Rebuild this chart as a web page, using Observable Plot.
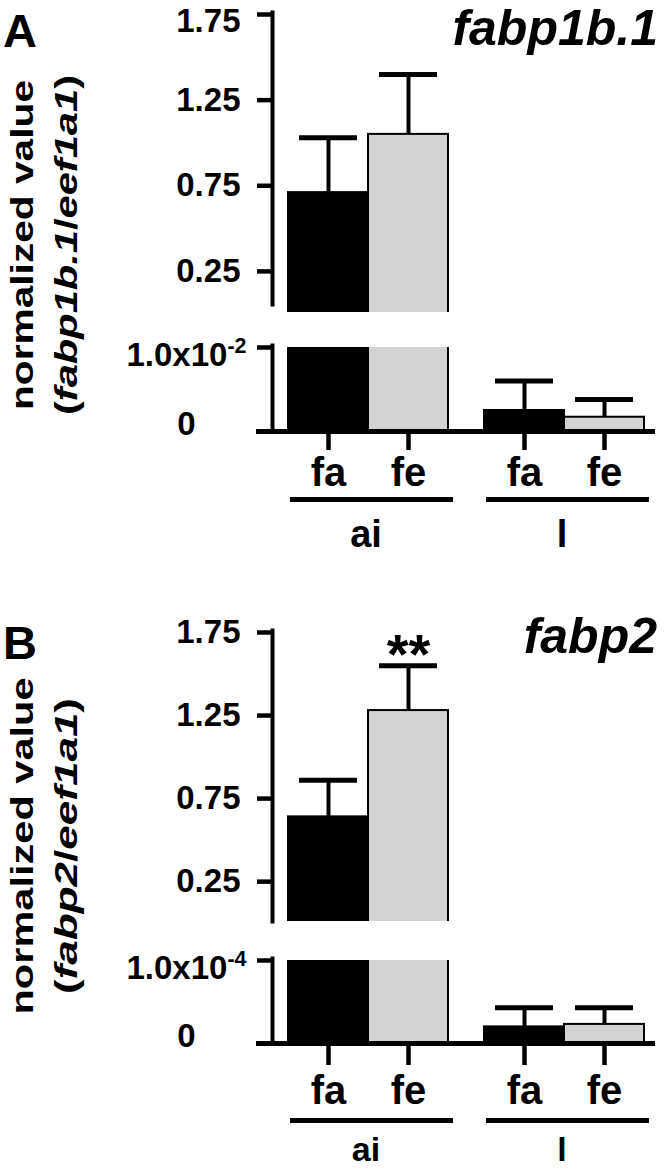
<!DOCTYPE html>
<html>
<head>
<meta charset="utf-8">
<script src="https://cdn.jsdelivr.net/npm/d3@7"></script>
<script src="https://cdn.jsdelivr.net/npm/@observablehq/plot@0.6"></script>
<style>
html, body { margin: 0; padding: 0; background: #fff; }
#root { position: relative; width: 664px; height: 1170px; overflow: hidden; background: #fff; }
#root > svg { position: absolute; left: 0; }
</style>
</head>
<body>
<div id="root"></div>
<script>
// ---------- data ----------
const groups = ["ai", "ai", "l", "l"];
const conditions = ["fa", "fe", "fa", "fe"];
const groupDomain = ["ai", "l"];
const conditionDomain = ["fa", "fe"];

// Panel A: fabp1b.1 / eef1a1
const fabp1b1Mean = [0.71, 1.05, 0.0025, 0.0017];
const fabp1b1Err  = [0.32, 0.35, 0.0035, 0.0021];
const fabp1b1Note = ["", "", "", ""];
// Panel B: fabp2 / eef1a1
const fabp2Mean = [0.64, 1.28, 0.000020, 0.000023];
const fabp2Err  = [0.22, 0.27, 0.000023, 0.000020];
const fabp2Note = ["", "**", "", ""];

const upperTicks = [0.25, 0.75, 1.25, 1.75];
const fabp1b1LowerTicks = [0, 0.01];
const fabp1b1LowerLabels = ["0", "1.0x10^-2"];
const fabp2LowerTicks = [0, 0.0001];
const fabp2LowerLabels = ["0", "1.0x10^-4"];

// ---------- helpers ----------
const FONT = '"Liberation Sans", Arial, Helvetica, sans-serif';
const NS = "http://www.w3.org/2000/svg";
const root = document.getElementById("root");

function rowsOf(means, errs, notes) {
  return means.map((m, i) => ({group: groups[i], condition: conditions[i], mean: m, err: errs[i], note: notes[i]}));
}

function segment(rows, cfg) {
  const lower = cfg.kind === "lower";
  // a broken-axis segment only shows bars that reach into it
  const shown = rows.filter(d => d.mean > cfg.domain[0]);
  const marks = [
    Plot.barY(shown, {fx: "group", x: "condition", y: "mean", fill: "condition", stroke: "black", strokeWidth: 2, clip: true}),
    Plot.ruleX(shown, {fx: "group", x: "condition", y1: "mean", y2: d => d.mean + d.err, strokeWidth: 4, clip: true}),
    Plot.tickY(shown, {fx: "group", x: "condition", y: d => d.mean + d.err, strokeWidth: 5, insetLeft: 11, insetRight: 11, clip: true}),
    Plot.frame({anchor: "left", fx: "ai", strokeWidth: 4, insetTop: -2, insetBottom: cfg.axisInsetBottom}),
    Plot.axisY(cfg.ticks, {tickSize: 15, strokeWidth: 4.5, tickFormat: () => "", label: null})
  ];
  if (!lower) {
    const top = cfg.ticks[cfg.ticks.length - 1];
    marks.push(Plot.axisY(cfg.ticks.filter(t => t !== top), {tickSize: 0, tickPadding: 32, fontSize: 33, tickFormat: d => d.toFixed(2), label: null, ariaLabel: "upper-label"}));
    marks.push(Plot.axisY([top], {tickSize: 0, tickPadding: 32, fontSize: 33, dy: cfg.topLabelDy, tickFormat: d => d.toFixed(2), label: null, ariaLabel: "upper-label"}));
    marks.push(Plot.text(shown.filter(d => d.note), {fx: "group", x: "condition", y: d => d.mean + d.err, text: "note", fontSize: 56, lineAnchor: "top", dy: -32}));
  } else {
    const fmt = d => cfg.labels[cfg.ticks.indexOf(d)];
    marks.push(Plot.axisY([cfg.ticks[1]], {tickSize: 0, tickPadding: 86, textAnchor: "middle", fontSize: 33, dy: 8, tickFormat: fmt, label: null}));
    marks.push(Plot.axisY([cfg.ticks[0]], {tickSize: 0, tickPadding: 86, textAnchor: "middle", fontSize: 33, dy: -7, tickFormat: fmt, label: null}));
    marks.push(Plot.ruleY([0], {strokeWidth: 5, insetLeft: -16}));
    marks.push(Plot.axisX({anchor: "bottom", tickSize: cfg.xTickSize, tickPadding: cfg.xTickPadding, strokeWidth: 4.5, fontSize: 40, label: null}));
    marks.push(Plot.frame({anchor: "bottom", insetBottom: -cfg.underline, insetLeft: 20, insetRight: 9, strokeWidth: 5}));
    marks.push(Plot.axisFx({anchor: "bottom", tickSize: 0, tickPadding: cfg.groupPad, fontSize: cfg.groupFont, label: null}));
  }
  const svg = Plot.plot({
    width: 664,
    height: cfg.height,
    marginLeft: 272,
    marginRight: 9,
    marginTop: cfg.marginTop,
    marginBottom: cfg.marginBottom,
    style: {fontFamily: FONT, fontWeight: "bold", color: "black", background: "transparent", overflow: "visible"},
    fx: {domain: groupDomain, paddingInner: 0.046, paddingOuter: 0, axis: null, label: null},
    x: {domain: conditionDomain, paddingInner: 0, paddingOuter: 0.1615, align: 0.577, axis: null, label: null},
    y: {domain: cfg.domain, axis: null, label: null},
    color: {domain: conditionDomain, range: ["black", "#d3d3d3"]},
    marks
  });
  // superscripts written as "base^sup"
  svg.querySelectorAll("text").forEach(t => {
    if (t.children.length === 0 && t.textContent.includes("^")) {
      const [base, sup] = t.textContent.split("^");
      t.textContent = "";
      const a = document.createElementNS(NS, "tspan");
      a.textContent = base;
      const b = document.createElementNS(NS, "tspan");
      b.textContent = sup;
      b.style.fontSize = "0.65em";
      b.setAttribute("dy", "-0.6em");
      t.appendChild(a);
      t.appendChild(b);
    }
  });
  svg.style.top = cfg.top + "px";
  root.appendChild(svg);
  // the reference's tick numerals are a little wider than Liberation Sans
  svg.querySelectorAll('g[aria-label="upper-label"] text').forEach(t => {
    const w = t.getComputedTextLength();
    if (w > 0) { t.setAttribute("textLength", (w * 1.14).toFixed(1)); t.setAttribute("lengthAdjust", "spacingAndGlyphs"); }
  });
}

const rowsA = rowsOf(fabp1b1Mean, fabp1b1Err, fabp1b1Note);
const rowsB = rowsOf(fabp2Mean, fabp2Err, fabp2Note);

segment(rowsA, {kind: "upper", top: 0, height: 316, marginTop: 14, marginBottom: 4, domain: [0.01, 1.75], ticks: upperTicks, axisInsetBottom: 8, topLabelDy: 7});
segment(rowsA, {kind: "lower", top: 316, height: 240, marginTop: 31, marginBottom: 125, domain: [0, 0.01], ticks: fabp1b1LowerTicks, labels: fabp1b1LowerLabels, axisInsetBottom: 0, xTickSize: 19, xTickPadding: 7, underline: 68, groupPad: 89, groupFont: 38});
segment(rowsB, {kind: "upper", top: 556, height: 369, marginTop: 76, marginBottom: 4, domain: [0.01, 1.75], ticks: upperTicks, axisInsetBottom: 0, topLabelDy: 0});
segment(rowsB, {kind: "lower", top: 925, height: 245, marginTop: 35, marginBottom: 127, domain: [0, 0.0001], ticks: fabp2LowerTicks, labels: fabp2LowerLabels, axisInsetBottom: 0, xTickSize: 22, xTickPadding: 10, underline: 77, groupPad: 93, groupFont: 34});

// ---------- panel letters, gene titles, y-axis labels ----------
const panels = [
  {letter: "A", gene: "fabp1b.1", reference: "eef1a1", letterY: 47, titleX: 658, titleY: 45, labelY: 245, len1: 330, len2: 340},
  {letter: "B", gene: "fabp2", reference: "eef1a1", letterY: 659, titleX: 657, titleY: 653, labelY: 846, len1: 337, len2: 296}
];
const overlay = document.createElementNS(NS, "svg");
overlay.setAttribute("width", 664);
overlay.setAttribute("height", 1170);
overlay.style.top = "0px";
overlay.setAttribute("font-family", FONT);
overlay.setAttribute("font-weight", "bold");
function addText(parent, attrs, content) {
  const t = document.createElementNS(NS, "text");
  for (const k in attrs) t.setAttribute(k, attrs[k]);
  if (typeof content === "string") t.textContent = content;
  else content.forEach(([s, italic]) => {
    const ts = document.createElementNS(NS, "tspan");
    ts.textContent = s;
    if (italic) ts.setAttribute("font-style", "italic");
    t.appendChild(ts);
  });
  parent.appendChild(t);
  return t;
}
panels.forEach(p => {
  addText(overlay, {x: 3, y: p.letterY, "font-size": 47}, p.letter);
  addText(overlay, {x: p.titleX, y: p.titleY, "font-size": 50, "font-style": "italic", "text-anchor": "end"}, p.gene);
  addText(overlay, {transform: `translate(33,${p.labelY}) rotate(-90)`, "font-size": 32, "text-anchor": "middle", textLength: p.len1, lengthAdjust: "spacingAndGlyphs"}, "normalized value");
  addText(overlay, {transform: `translate(77,${p.labelY}) rotate(-90)`, "font-size": 32, "text-anchor": "middle", textLength: p.len2, lengthAdjust: "spacingAndGlyphs"},
    [["(", false], [p.gene, true], ["/", false], [p.reference, true], [")", false]]);
});
root.appendChild(overlay);
</script>
</body>
</html>
